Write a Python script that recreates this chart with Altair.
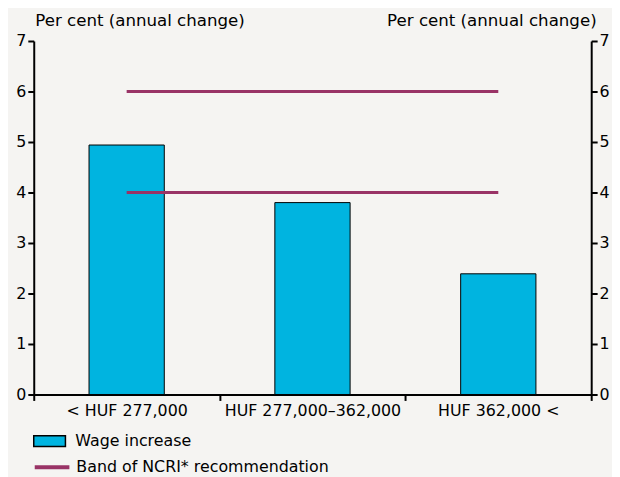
import altair as alt
import pandas as pd

categories = ["< HUF 277,000", "HUF 277,000\u2013362,000", "HUF 362,000 <"]
wage_increase = [4.94, 3.80, 2.39]
band_low = [4, 4, 4]
band_high = [6, 6, 6]
y_ticks = [0, 1, 2, 3, 4, 5, 6, 7]

FONT = "DejaVu Sans"
BG = "#f5f4f2"
BAR = "#00b4e0"
LINE = "#993366"

bars = pd.DataFrame({"cat": categories, "val": wage_increase, "s1": "Wage increase"})
lines = pd.DataFrame({
    "cat": categories * 2,
    "val": band_low + band_high,
    "lvl": ["low"] * 3 + ["high"] * 3,
    "s2": "Band of NCRI* recommendation",
})

x_enc = alt.X("cat:N", sort=categories, scale=alt.Scale(paddingInner=0, paddingOuter=0),
              axis=alt.Axis(title=None, labelAngle=0, tickBand="extent", tickSize=6,
                            tickWidth=2, domainWidth=2, domainColor="black", tickColor="black",
                            labelFontSize=16, labelColor="black", labelPadding=2))

y_scale = alt.Scale(domain=[0, 7], nice=False)


def y_axis(orient, align, tx):
    return alt.Axis(title="Per cent (annual change)", values=y_ticks, orient=orient,
                    grid=False, tickSize=6, tickWidth=2, domainWidth=2,
                    domainColor="black", tickColor="black", labelFontSize=16,
                    labelColor="black", labelPadding=2, titleAngle=0, titleAlign=align,
                    titleBaseline="alphabetic", titleX=tx, titleY=-16,
                    titleFontSize=16.8, titleFontWeight="normal", titleColor="black")


bar_layer = alt.Chart(bars).mark_bar(width=alt.RelativeBandSize(0.405), stroke="black", strokeWidth=1).encode(
    x=x_enc,
    y=alt.Y("val:Q", scale=y_scale, axis=y_axis("left", "left", 1)),
    fill=alt.Fill("s1:N", scale=alt.Scale(domain=["Wage increase"], range=[BAR]),
                  legend=alt.Legend(title=None, orient="none", legendX=-1, legendY=387,
                                    symbolType="M-1,-0.34H1V0.34H-1Z", symbolSize=1024,
                                    symbolStrokeColor="black", symbolStrokeWidth=1.5,
                                    labelFontSize=16, labelColor="black", labelOffset=9,
                                    labelLimit=0)),
)

line_layer = alt.Chart(lines).mark_line(strokeWidth=3).encode(
    x=alt.X("cat:N", sort=categories),
    y=alt.Y("val:Q", scale=y_scale, axis=y_axis("right", "right", 5)),
    detail="lvl:N",
    stroke=alt.Stroke("s2:N", scale=alt.Scale(domain=["Band of NCRI* recommendation"], range=[LINE]),
                      legend=alt.Legend(title=None, orient="none", legendX=-1, legendY=411,
                                        symbolType="stroke", symbolSize=1225, symbolStrokeWidth=4,
                                        labelFontSize=16, labelColor="black", labelOffset=5,
                                        labelLimit=0)),
)

chart = alt.layer(bar_layer, line_layer).resolve_scale(y="independent").properties(
    width=563, height=357,
    autosize=alt.AutoSizeParams(type="none"),
    padding={"left": 26, "top": 31, "right": 21, "bottom": 81},
    background=BG,
).configure(font=FONT).configure_view(stroke=None)

chart.save("out.html", embed_options={"renderer": "svg", "actions": False})
